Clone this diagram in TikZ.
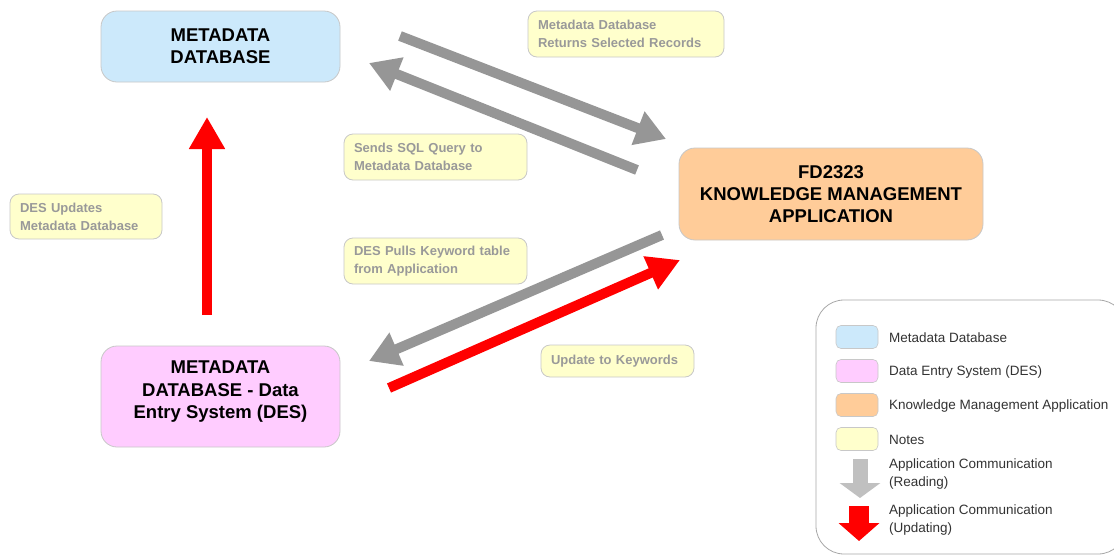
\documentclass[tikz,border=0pt]{standalone}
\usepackage{fontspec}
\setmainfont{Liberation Sans}
\usetikzlibrary{arrows.meta}

\definecolor{mdblue}{HTML}{CCE9FB}
\definecolor{despink}{HTML}{FFCCFF}
\definecolor{kmaorange}{HTML}{FFCC99}
\definecolor{noteyellow}{HTML}{FFFFCC}
\definecolor{boxedge}{HTML}{C8C8C8}
\definecolor{notetext}{HTML}{999999}
\definecolor{legendedge}{HTML}{A8A8A8}
\definecolor{readgray}{HTML}{969696}
\definecolor{legendgray}{HTML}{C0C0C0}
\definecolor{legendtext}{HTML}{333333}

\tikzset{
  mainbox/.style={draw=boxedge, line width=0.8pt, rounded corners=16pt,
    align=center, font=\fontsize{18.5}{22}\selectfont\bfseries, text=black},
  notebox/.style={draw=boxedge, line width=0.8pt, rounded corners=9pt, fill=noteyellow,
    align=left, inner xsep=10pt, font=\fontsize{13}{18}\selectfont\bfseries, text=notetext},
  swatch/.style={draw=boxedge, line width=0.6pt, rounded corners=5pt,
    minimum width=42pt, minimum height=23pt},
  legtext/.style={anchor=west, align=left, inner sep=0pt,
    font=\fontsize{13.5}{18}\selectfont, text=legendtext},
  readarrow/.style={draw=readgray, line width=10pt,
    -{Triangle[length=30pt,width=34pt]}},
  updatearrow/.style={draw=red, line width=10pt,
    -{Triangle[length=32pt,width=34pt]}},
}

\begin{document}
\begin{tikzpicture}[x=1pt,y=-1pt]
\useasboundingbox (0,0) rectangle (1114,555);
\fill[white] (0,0) rectangle (1114,555);

% main system boxes
\node[mainbox, fill=mdblue, minimum width=239pt, minimum height=71pt] (md) at (220.5,46.5)
  {METADATA\\DATABASE};
\node[mainbox, fill=kmaorange, minimum width=304pt, minimum height=92pt] (kma) at (831,194)
  {FD2323\\KNOWLEDGE MANAGEMENT\\APPLICATION};
\node[mainbox, fill=despink, minimum width=239pt, minimum height=101pt] (des) at (220.5,396.5) {};
\node[align=center, font=\fontsize{18.5}{22.5}\selectfont\bfseries, text=black] (destext) at (220.5,392)
  {METADATA\\DATABASE - Data\\Entry System (DES)};

% notes
\node[notebox, minimum width=196pt, minimum height=46pt, text width=176pt] (n1) at (626,34)
  {Metadata Database\\Returns Selected Records};
\node[notebox, minimum width=183pt, minimum height=46pt, text width=163pt] (n2) at (435.5,157)
  {Sends SQL Query to\\Metadata Database};
\node[notebox, minimum width=152pt, minimum height=45pt, text width=132pt] (n3) at (86,216.5)
  {DES Updates\\Metadata Database};
\node[notebox, minimum width=183pt, minimum height=46pt, text width=163pt] (n4) at (435.5,261)
  {DES Pulls Keyword table\\from Application};
\node[notebox, minimum width=153pt, minimum height=32pt, text width=133pt] (n5) at (617.5,361)
  {Update to Keywords};

% connector end points
\coordinate (q1s) at (400,36);   \coordinate (q1e) at (666,139);
\coordinate (q2s) at (637,170);  \coordinate (q2e) at (369,63);
\coordinate (u1s) at (207,315);  \coordinate (u1e) at (207,117);
\coordinate (q3s) at (662,235);  \coordinate (q3e) at (369,361);
\coordinate (u2s) at (389,388);  \coordinate (u2e) at (680,260);

\draw[readarrow] (q1s) -- (q1e);
\draw[readarrow] (q2s) -- (q2e);
\draw[updatearrow] (u1s) -- (u1e);
\draw[readarrow] (q3s) -- (q3e);
\draw[updatearrow] (u2s) -- (u2e);

% legend (its frame runs past the right edge of the page)
\draw[draw=legendedge, line width=0.8pt, rounded corners=28pt] (816,300) rectangle (1126,554);
\node[swatch, fill=mdblue] (sw1) at (857,337) {};
\node[swatch, fill=despink] (sw2) at (857,371) {};
\node[swatch, fill=kmaorange] (sw3) at (857,405) {};
\node[swatch, fill=noteyellow] (sw4) at (857,439) {};
\node[legtext] (l1) at (889,338) {Metadata Database};
\node[legtext] (l2) at (889,372) {Data Entry System (DES)};
\node[legtext] (l3) at (889,406) {Knowledge Management Application};
\node[legtext] (l4) at (889,440) {Notes};
\node[legtext] (l5) at (889,474) {Application Communication\\(Reading)};
\node[legtext] (l6) at (889,520) {Application Communication\\(Updating)};

\coordinate (lg1s) at (860,459); \coordinate (lg1e) at (860,498);
\coordinate (lg2s) at (859,506); \coordinate (lg2e) at (859,541);
\draw[draw=legendgray, line width=15pt, -{Triangle[length=15pt,width=40pt]}] (lg1s) -- (lg1e);
\draw[draw=red, line width=20pt, -{Triangle[length=18pt,width=40pt]}] (lg2s) -- (lg2e);
\end{tikzpicture}
\end{document}
